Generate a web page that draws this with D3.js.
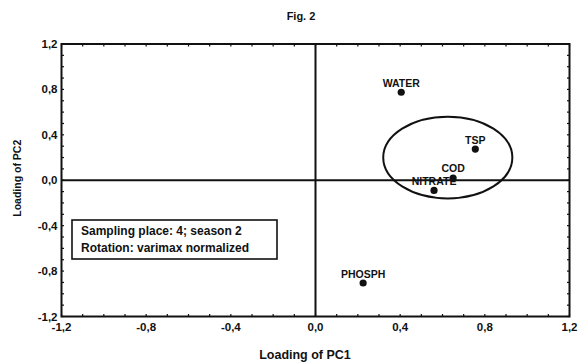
<!DOCTYPE html>
<html>
<head>
<meta charset="utf-8">
<script src="https://cdn.jsdelivr.net/npm/d3@7"></script>
<style>
  body { margin: 0; background: #fff; }
  text { font-family: "Liberation Sans", Arial, sans-serif; font-weight: bold; fill: #111; }
</style>
</head>
<body>
<div id="chart"></div>
<script>
const names = ["WATER", "TSP", "COD", "NITRATE", "PHOSPH"];
const pc1 = [0.405, 0.755, 0.650, 0.560, 0.225];
const pc2 = [0.775, 0.275, 0.020, -0.090, -0.905];
const ticks = [-1.2, -0.8, -0.4, 0.0, 0.4, 0.8, 1.2];
const legendLines = ["Sampling place: 4; season 2", "Rotation: varimax normalized"];
// cluster ellipse: centre and radii in loading units
const ellipse = { cx: 0.625, cy: 0.20, rx: 0.305, ry: 0.36 };

const width = 584, height = 363;
const margin = { top: 44, right: 14.5, bottom: 46.5, left: 61.5 };

const svg = d3.select("#chart").append("svg")
    .attr("width", width)
    .attr("height", height);

const x = d3.scaleLinear().domain([-1.2, 1.2]).range([margin.left, width - margin.right]);
const y = d3.scaleLinear().domain([-1.2, 1.2]).range([height - margin.bottom, margin.top]);

const fmt = d => d3.format(".1f")(d).replace(".", ",").replace("−", "-");

// minor ticks on all four sides, pointing in
const minor = d3.range(-12, 13).map(i => i / 10);
const g = svg.append("g");
g.selectAll(".tb").data(minor).enter().append("line")
    .attr("x1", d => x(d)).attr("x2", d => x(d))
    .attr("y1", y(-1.2)).attr("y2", y(-1.2) - 2.5)
    .attr("stroke", "#111").attr("stroke-width", 1.2);
g.selectAll(".tt").data(minor).enter().append("line")
    .attr("x1", d => x(d)).attr("x2", d => x(d))
    .attr("y1", y(1.2)).attr("y2", y(1.2) + 2.5)
    .attr("stroke", "#111").attr("stroke-width", 1.2);
g.selectAll(".tl").data(minor).enter().append("line")
    .attr("y1", d => y(d)).attr("y2", d => y(d))
    .attr("x1", x(-1.2)).attr("x2", x(-1.2) + 2.5)
    .attr("stroke", "#111").attr("stroke-width", 1.2);
g.selectAll(".tr").data(minor).enter().append("line")
    .attr("y1", d => y(d)).attr("y2", d => y(d))
    .attr("x1", x(1.2)).attr("x2", x(1.2) - 2.5)
    .attr("stroke", "#111").attr("stroke-width", 1.2);

// frame
svg.append("rect")
    .attr("x", x(-1.2)).attr("y", y(1.2))
    .attr("width", x(1.2) - x(-1.2)).attr("height", y(-1.2) - y(1.2))
    .attr("fill", "none").attr("stroke", "#111").attr("stroke-width", 2);

// zero lines
svg.append("line")
    .attr("x1", x(0)).attr("x2", x(0)).attr("y1", y(1.2)).attr("y2", y(-1.2))
    .attr("stroke", "#111").attr("stroke-width", 2);
svg.append("line")
    .attr("x1", x(-1.2)).attr("x2", x(1.2)).attr("y1", y(0)).attr("y2", y(0))
    .attr("stroke", "#111").attr("stroke-width", 2);

// tick labels
svg.selectAll(".xl").data(ticks).enter().append("text")
    .attr("x", d => x(d)).attr("y", y(-1.2) + 14)
    .attr("text-anchor", "middle").style("font-size", "11.5px")
    .text(fmt);
svg.selectAll(".yl").data(ticks).enter().append("text")
    .attr("x", x(-1.2) - 4).attr("y", d => y(d) + 4)
    .attr("text-anchor", "end").style("font-size", "11.5px")
    .text(fmt);

// titles
svg.append("text").attr("x", 301).attr("y", 20)
    .attr("text-anchor", "middle").style("font-size", "11px").text("Fig. 2");
svg.append("text").attr("x", 305).attr("y", 359)
    .attr("text-anchor", "middle").style("font-size", "12.5px").text("Loading of PC1");
svg.append("text")
    .attr("transform", `translate(21,${y(0) - 2}) rotate(-90)`)
    .attr("text-anchor", "middle").style("font-size", "10.5px").text("Loading of PC2");

// ellipse
svg.append("ellipse")
    .attr("cx", x(ellipse.cx)).attr("cy", y(ellipse.cy))
    .attr("rx", x(ellipse.rx) - x(0)).attr("ry", y(0) - y(ellipse.ry))
    .attr("fill", "none").attr("stroke", "#111").attr("stroke-width", 2);

// points
const pts = names.map((n, i) => ({ name: n, x: pc1[i], y: pc2[i] }));
svg.selectAll(".pt").data(pts).enter().append("circle")
    .attr("cx", d => x(d.x)).attr("cy", d => y(d.y)).attr("r", 3.6)
    .attr("fill", "#111");
svg.selectAll(".lab").data(pts).enter().append("text")
    .attr("x", d => x(d.x)).attr("y", d => y(d.y) - 5.5)
    .attr("text-anchor", "middle").style("font-size", "10.5px")
    .text(d => d.name);

// legend box
const lg = svg.append("g").attr("transform", "translate(72,220)");
lg.append("rect").attr("width", 205).attr("height", 39)
    .attr("fill", "#fff").attr("stroke", "#111").attr("stroke-width", 1.6);
lg.selectAll("text").data(legendLines).enter().append("text")
    .attr("x", 9).attr("y", (d, i) => 15 + i * 17)
    .style("font-size", "12px").text(d => d);
</script>
</body>
</html>
